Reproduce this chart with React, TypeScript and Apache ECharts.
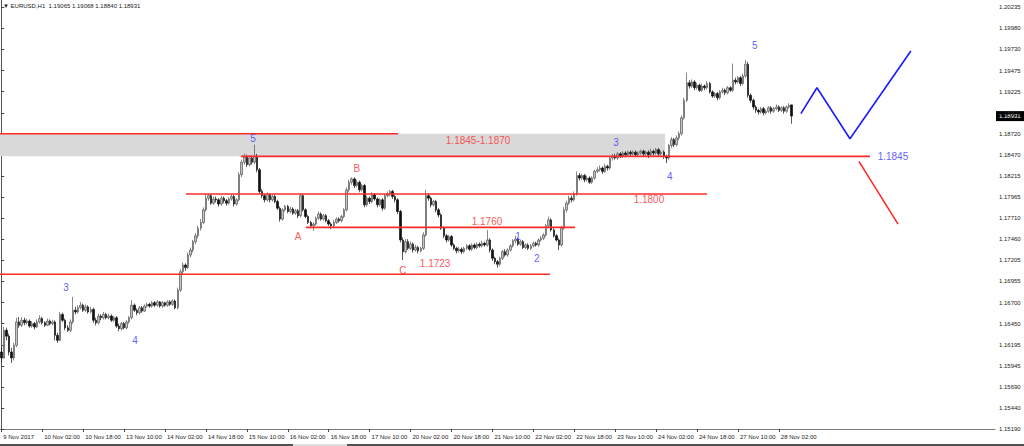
import React, { useEffect, useRef } from "react";
import * as echarts from "echarts";

// x-axis tick labels, one every 16 hourly bars (bar 0 = 9 Nov 10:00)
const xTickLabels = [
  "9 Nov 2017", "10 Nov 02:00", "10 Nov 18:00", "13 Nov 10:00", "14 Nov 02:00",
  "14 Nov 18:00", "15 Nov 10:00", "16 Nov 02:00", "16 Nov 18:00", "17 Nov 10:00",
  "20 Nov 02:00", "20 Nov 18:00", "21 Nov 10:00", "22 Nov 02:00", "22 Nov 18:00",
  "23 Nov 10:00", "24 Nov 02:00", "24 Nov 18:00", "27 Nov 10:00", "28 Nov 02:00",
];

// price-scale tick values (right axis)
const yTickValues = [
  1.1519, 1.1544, 1.1569, 1.15945, 1.16195, 1.1645, 1.167, 1.16955, 1.17205, 1.1746,
  1.1771, 1.17965, 1.18215, 1.1847, 1.1872, 1.1897, 1.19225, 1.19475, 1.1973, 1.1998, 1.20235,
];

const symbolTitle = "EURUSD,H1";
const lastBar = { open: 1.19065, high: 1.19068, low: 1.1884, close: 1.18931 };

// EURUSD H1 candles: [open, close, low, high]
const candles: number[][] = [
  [1.1611,1.1604,1.1599,1.1616],[1.1604,1.1637,1.1603,1.1641],[1.1637,1.1630,1.1625,1.1640],[1.1630,1.1611,1.1607,1.1633],
  [1.1611,1.1604,1.1598,1.1616],[1.1604,1.1619,1.1601,1.1622],[1.1619,1.1647,1.1617,1.1652],[1.1647,1.1643,1.1640,1.1653],
  [1.1643,1.1649,1.1641,1.1653],[1.1649,1.1646,1.1643,1.1652],[1.1646,1.1648,1.1644,1.1651],[1.1648,1.1642,1.1640,1.1650],
  [1.1642,1.1645,1.1640,1.1648],[1.1645,1.1641,1.1638,1.1647],[1.1641,1.1647,1.1640,1.1650],[1.1647,1.1651,1.1645,1.1655],
  [1.1651,1.1646,1.1644,1.1653],[1.1646,1.1643,1.1641,1.1648],[1.1643,1.1648,1.1642,1.1651],[1.1648,1.1645,1.1643,1.1650],
  [1.1645,1.1647,1.1643,1.1649],[1.1647,1.1631,1.1625,1.1649],[1.1631,1.1625,1.1622,1.1634],[1.1625,1.1656,1.1624,1.1659],
  [1.1656,1.1649,1.1647,1.1658],[1.1649,1.1640,1.1637,1.1651],[1.1640,1.1637,1.1635,1.1643],[1.1637,1.1647,1.1635,1.1650],
  [1.1647,1.1661,1.1645,1.1677],[1.1661,1.1659,1.1656,1.1665],[1.1659,1.1664,1.1657,1.1667],[1.1664,1.1667,1.1662,1.1671],
  [1.1667,1.1661,1.1659,1.1669],[1.1661,1.1665,1.1659,1.1668],[1.1665,1.1659,1.1657,1.1667],[1.1659,1.1662,1.1657,1.1665],
  [1.1662,1.1649,1.1646,1.1664],[1.1649,1.1646,1.1643,1.1652],[1.1646,1.1654,1.1644,1.1657],[1.1654,1.1652,1.1649,1.1656],
  [1.1652,1.1656,1.1650,1.1659],[1.1656,1.1652,1.1650,1.1658],[1.1652,1.1654,1.1650,1.1657],[1.1654,1.1649,1.1647,1.1656],
  [1.1649,1.1652,1.1647,1.1654],[1.1652,1.1642,1.1640,1.1654],[1.1642,1.1639,1.1636,1.1645],[1.1639,1.1645,1.1637,1.1647],
  [1.1645,1.1640,1.1638,1.1647],[1.1640,1.1647,1.1638,1.1649],[1.1647,1.1652,1.1645,1.1654],[1.1652,1.1667,1.1650,1.1673],
  [1.1667,1.1661,1.1659,1.1669],[1.1661,1.1658,1.1655,1.1663],[1.1658,1.1664,1.1656,1.1666],[1.1664,1.1660,1.1658,1.1666],
  [1.1660,1.1666,1.1659,1.1668],[1.1666,1.1668,1.1664,1.1670],[1.1668,1.1666,1.1664,1.1670],[1.1666,1.1670,1.1664,1.1672],
  [1.1670,1.1667,1.1665,1.1672],[1.1667,1.1671,1.1665,1.1673],[1.1671,1.1666,1.1664,1.1672],[1.1666,1.1670,1.1664,1.1672],
  [1.1670,1.1667,1.1665,1.1671],[1.1667,1.1671,1.1665,1.1673],[1.1671,1.1668,1.1666,1.1673],[1.1668,1.1672,1.1666,1.1674],
  [1.1672,1.1664,1.1662,1.1674],[1.1664,1.1685,1.1662,1.1688],[1.1685,1.1707,1.1683,1.1710],[1.1707,1.1715,1.1703,1.1718],
  [1.1715,1.1712,1.1708,1.1717],[1.1712,1.1727,1.1710,1.1730],[1.1727,1.1733,1.1724,1.1736],[1.1733,1.1743,1.1730,1.1745],
  [1.1743,1.1750,1.1740,1.1753],[1.1750,1.1759,1.1747,1.1762],[1.1759,1.1766,1.1756,1.1770],[1.1766,1.1781,1.1764,1.1784],
  [1.1781,1.1795,1.1779,1.1800],[1.1795,1.1798,1.1792,1.1800],[1.1798,1.1789,1.1787,1.1800],[1.1789,1.1794,1.1787,1.1797],
  [1.1794,1.1793,1.1790,1.1797],[1.1793,1.1788,1.1785,1.1795],[1.1788,1.1795,1.1786,1.1798],[1.1795,1.1792,1.1789,1.1797],
  [1.1792,1.1789,1.1786,1.1794],[1.1789,1.1794,1.1787,1.1796],[1.1794,1.1797,1.1792,1.1800],[1.1797,1.1788,1.1785,1.1799],
  [1.1788,1.1793,1.1786,1.1795],[1.1793,1.1823,1.1791,1.1826],[1.1823,1.1838,1.1820,1.1841],[1.1838,1.1844,1.1835,1.1848],
  [1.1844,1.1835,1.1832,1.1847],[1.1835,1.1843,1.1833,1.1846],[1.1843,1.1838,1.1835,1.1846],[1.1838,1.1845,1.1836,1.1859],
  [1.1845,1.1829,1.1826,1.1848],[1.1829,1.1803,1.1800,1.1831],[1.1803,1.1798,1.1795,1.1806],[1.1798,1.1793,1.1790,1.1800],
  [1.1793,1.1799,1.1791,1.1802],[1.1799,1.1793,1.1790,1.1801],[1.1793,1.1797,1.1791,1.1799],[1.1797,1.1791,1.1789,1.1799],
  [1.1791,1.1783,1.1781,1.1793],[1.1783,1.1770,1.1767,1.1785],[1.1770,1.1781,1.1768,1.1783],[1.1781,1.1785,1.1779,1.1787],
  [1.1785,1.1779,1.1777,1.1787],[1.1779,1.1782,1.1777,1.1785],[1.1782,1.1777,1.1775,1.1784],[1.1777,1.1780,1.1775,1.1782],
  [1.1780,1.1774,1.1771,1.1782],[1.1774,1.1798,1.1772,1.1800],[1.1798,1.1781,1.1779,1.1800],[1.1781,1.1773,1.1771,1.1783],
  [1.1773,1.1766,1.1764,1.1775],[1.1766,1.1762,1.1759,1.1768],[1.1762,1.1764,1.1756,1.1766],[1.1764,1.1771,1.1762,1.1773],
  [1.1771,1.1776,1.1769,1.1779],[1.1776,1.1770,1.1768,1.1778],[1.1770,1.1774,1.1768,1.1776],[1.1774,1.1768,1.1766,1.1776],
  [1.1768,1.1764,1.1762,1.1770],[1.1764,1.1762,1.1758,1.1766],[1.1762,1.1766,1.1760,1.1769],[1.1766,1.1770,1.1764,1.1772],
  [1.1770,1.1768,1.1766,1.1772],[1.1768,1.1773,1.1766,1.1775],[1.1773,1.1781,1.1771,1.1783],[1.1781,1.1805,1.1779,1.1808],
  [1.1805,1.1814,1.1802,1.1817],[1.1814,1.1818,1.1811,1.1820],[1.1818,1.1810,1.1807,1.1820],[1.1810,1.1814,1.1808,1.1817],
  [1.1814,1.1805,1.1802,1.1816],[1.1805,1.1810,1.1803,1.1812],[1.1810,1.1787,1.1784,1.1812],[1.1787,1.1795,1.1785,1.1798],
  [1.1795,1.1791,1.1788,1.1797],[1.1791,1.1799,1.1789,1.1802],[1.1799,1.1794,1.1792,1.1801],[1.1794,1.1787,1.1784,1.1796],
  [1.1787,1.1793,1.1785,1.1795],[1.1793,1.1783,1.1780,1.1795],[1.1783,1.1798,1.1781,1.1800],[1.1798,1.1800,1.1796,1.1803],
  [1.1800,1.1803,1.1797,1.1805],[1.1803,1.1797,1.1794,1.1805],[1.1797,1.1793,1.1790,1.1799],[1.1793,1.1779,1.1776,1.1795],
  [1.1779,1.1745,1.1742,1.1781],[1.1745,1.1731,1.1721,1.1748],[1.1731,1.1743,1.1729,1.1746],[1.1743,1.1735,1.1733,1.1746],
  [1.1735,1.1740,1.1733,1.1743],[1.1740,1.1733,1.1730,1.1742],[1.1733,1.1736,1.1731,1.1739],[1.1736,1.1732,1.1729,1.1738],
  [1.1732,1.1735,1.1730,1.1737],[1.1735,1.1751,1.1733,1.1754],[1.1751,1.1798,1.1749,1.1805],[1.1798,1.1795,1.1792,1.1801],
  [1.1795,1.1787,1.1784,1.1797],[1.1787,1.1791,1.1785,1.1793],[1.1791,1.1781,1.1778,1.1793],[1.1781,1.1775,1.1772,1.1783],
  [1.1775,1.1759,1.1757,1.1777],[1.1759,1.1750,1.1747,1.1761],[1.1750,1.1745,1.1742,1.1752],[1.1745,1.1749,1.1743,1.1751],
  [1.1749,1.1739,1.1737,1.1751],[1.1739,1.1735,1.1733,1.1741],[1.1735,1.1732,1.1729,1.1737],[1.1732,1.1734,1.1730,1.1737],
  [1.1734,1.1731,1.1728,1.1736],[1.1731,1.1735,1.1729,1.1737],[1.1735,1.1738,1.1733,1.1740],[1.1738,1.1734,1.1732,1.1740],
  [1.1734,1.1739,1.1732,1.1741],[1.1739,1.1736,1.1734,1.1741],[1.1736,1.1740,1.1734,1.1742],[1.1740,1.1738,1.1736,1.1742],
  [1.1738,1.1741,1.1736,1.1744],[1.1741,1.1739,1.1737,1.1743],[1.1739,1.1745,1.1737,1.1757],[1.1745,1.1733,1.1730,1.1747],
  [1.1733,1.1723,1.1720,1.1735],[1.1723,1.1719,1.1716,1.1725],[1.1719,1.1716,1.1712,1.1721],[1.1716,1.1723,1.1714,1.1725],
  [1.1723,1.1731,1.1721,1.1733],[1.1731,1.1727,1.1725,1.1734],[1.1727,1.1733,1.1725,1.1735],[1.1733,1.1738,1.1731,1.1740],
  [1.1738,1.1744,1.1736,1.1746],[1.1744,1.1746,1.1741,1.1750],[1.1746,1.1740,1.1738,1.1748],[1.1740,1.1743,1.1738,1.1745],
  [1.1743,1.1736,1.1734,1.1745],[1.1736,1.1739,1.1734,1.1741],[1.1739,1.1735,1.1733,1.1741],[1.1735,1.1738,1.1733,1.1740],
  [1.1738,1.1741,1.1736,1.1743],[1.1741,1.1739,1.1737,1.1743],[1.1739,1.1745,1.1737,1.1747],[1.1745,1.1747,1.1743,1.1750],
  [1.1747,1.1751,1.1745,1.1753],[1.1751,1.1762,1.1749,1.1764],[1.1762,1.1769,1.1760,1.1773],[1.1769,1.1757,1.1755,1.1771],
  [1.1757,1.1750,1.1748,1.1759],[1.1750,1.1745,1.1743,1.1752],[1.1745,1.1739,1.1733,1.1747],[1.1739,1.1759,1.1737,1.1762],
  [1.1759,1.1781,1.1757,1.1784],[1.1781,1.1789,1.1778,1.1792],[1.1789,1.1795,1.1787,1.1798],[1.1795,1.1793,1.1790,1.1798],
  [1.1793,1.1800,1.1791,1.1803],[1.1800,1.1822,1.1798,1.1827],[1.1822,1.1819,1.1816,1.1825],[1.1819,1.1822,1.1817,1.1824],
  [1.1822,1.1817,1.1814,1.1824],[1.1817,1.1819,1.1815,1.1822],[1.1819,1.1814,1.1812,1.1821],[1.1814,1.1819,1.1812,1.1821],
  [1.1819,1.1827,1.1817,1.1829],[1.1827,1.1829,1.1825,1.1832],[1.1829,1.1831,1.1827,1.1834],[1.1831,1.1827,1.1824,1.1833],
  [1.1827,1.1833,1.1825,1.1836],[1.1833,1.1831,1.1828,1.1835],[1.1831,1.1843,1.1829,1.1845],[1.1843,1.1845,1.1840,1.1848],
  [1.1845,1.1843,1.1841,1.1848],[1.1843,1.1848,1.1841,1.1850],[1.1848,1.1845,1.1843,1.1850],[1.1845,1.1849,1.1843,1.1851],
  [1.1849,1.1847,1.1844,1.1851],[1.1847,1.1850,1.1845,1.1852],[1.1850,1.1848,1.1845,1.1852],[1.1848,1.1850,1.1846,1.1852],
  [1.1850,1.1847,1.1844,1.1852],[1.1847,1.1849,1.1845,1.1851],[1.1849,1.1851,1.1847,1.1853],[1.1851,1.1848,1.1845,1.1853],
  [1.1848,1.1850,1.1846,1.1852],[1.1850,1.1847,1.1843,1.1852],[1.1847,1.1851,1.1845,1.1854],[1.1851,1.1849,1.1846,1.1853],
  [1.1849,1.1853,1.1847,1.1855],[1.1853,1.1848,1.1845,1.1855],[1.1848,1.1850,1.1846,1.1852],[1.1850,1.1845,1.1842,1.1852],
  [1.1845,1.1843,1.1837,1.1847],[1.1843,1.1858,1.1841,1.1860],[1.1858,1.1865,1.1855,1.1868],[1.1865,1.1859,1.1856,1.1867],
  [1.1859,1.1867,1.1857,1.1870],[1.1867,1.1872,1.1864,1.1875],[1.1872,1.1891,1.1870,1.1894],[1.1891,1.1912,1.1889,1.1915],
  [1.1912,1.1933,1.1910,1.1945],[1.1933,1.1929,1.1926,1.1936],[1.1929,1.1934,1.1927,1.1937],[1.1934,1.1927,1.1924,1.1936],
  [1.1927,1.1930,1.1925,1.1933],[1.1930,1.1924,1.1922,1.1932],[1.1924,1.1929,1.1922,1.1932],[1.1929,1.1927,1.1924,1.1931],
  [1.1927,1.1932,1.1925,1.1935],[1.1932,1.1922,1.1920,1.1934],[1.1922,1.1917,1.1915,1.1924],[1.1917,1.1920,1.1915,1.1922],
  [1.1920,1.1915,1.1912,1.1922],[1.1915,1.1922,1.1913,1.1924],[1.1922,1.1924,1.1920,1.1927],[1.1924,1.1921,1.1918,1.1926],
  [1.1921,1.1927,1.1919,1.1929],[1.1927,1.1924,1.1922,1.1929],[1.1924,1.1936,1.1922,1.1956],[1.1936,1.1934,1.1931,1.1939],
  [1.1934,1.1939,1.1932,1.1941],[1.1939,1.1932,1.1929,1.1941],[1.1932,1.1941,1.1930,1.1944],[1.1941,1.1955,1.1939,1.1960],
  [1.1955,1.1918,1.1915,1.1958],[1.1918,1.1912,1.1909,1.1920],[1.1912,1.1904,1.1901,1.1914],[1.1904,1.1900,1.1897,1.1906],
  [1.1900,1.1898,1.1895,1.1902],[1.1898,1.1902,1.1896,1.1904],[1.1902,1.1897,1.1894,1.1904],[1.1897,1.1899,1.1895,1.1901],
  [1.1899,1.1903,1.1897,1.1905],[1.1903,1.1899,1.1896,1.1905],[1.1899,1.1902,1.1897,1.1904],[1.1902,1.1904,1.1900,1.1907],
  [1.1904,1.1900,1.1898,1.1906],[1.1900,1.1903,1.1898,1.1905],[1.1903,1.1899,1.1896,1.1905],[1.1899,1.1904,1.1897,1.1906],
  [1.1904,1.1906,1.1902,1.19085],[1.19065,1.18931,1.1884,1.19068],
];

// support / resistance levels: price, first bar, last bar
const levelPrices = [1.1872, 1.1845, 1.18, 1.176, 1.1704];
const levelFrom = [-0.5, 93.7, 72.2, 119.1, -0.5];
const levelTo = [155.1, 339.6, 275.9, 224.3, 214.5];

// grey zone 1.1845-1.1872 up to bar 259.5
const zone = { from: -0.5, to: 259.5, low: 1.1845, high: 1.1872 };

// projected wave paths (bar index, price)
const blueProjection = [[312.6, 1.1896], [318.9, 1.1927], [331.8, 1.1866], [355.6, 1.1971]];
const redProjection = [[335.3, 1.1839], [350.6, 1.1764]];

// annotations: bar index, price, text, colour kind
const annotations: [number, number, string, string][] = [
  [186.4, 1.18645, "1.1845-1.1870", "red"],
  [348.6, 1.1845, "1.1845", "blue"],
  [253.2, 1.1793, "1.1800", "red"],
  [189.9, 1.1767, "1.1760", "red"],
  [169.6, 1.1717, "1.1723", "red"],
  [116.0, 1.1749, "A", "red"],
  [139.0, 1.1831, "B", "red"],
  [157.0, 1.1708, "C", "red"],
  [98.4, 1.1866, "5", "blue"],
  [25.3, 1.1688, "3", "blue"],
  [52.3, 1.1625, "4", "blue"],
  [202.0, 1.1749, "1", "blue"],
  [209.4, 1.1723, "2", "blue"],
  [240.3, 1.1861, "3", "blue"],
  [261.4, 1.1821, "4", "blue"],
  [294.6, 1.1977, "5", "blue"],
];

const SLOTS = 389;
const RED = "#ff2a2a";
const BLUE = "#3434ff";
const AXIS_FONT = "Liberation Sans";

export default function App() {
  const ref = useRef<HTMLDivElement>(null);

  useEffect(() => {
    document.body.style.margin = "0";
    if (!ref.current) return;
    const chart = echarts.init(ref.current, null, { renderer: "svg" });
    const cats = Array.from({ length: SLOTS }, (_, i) => String(i));
    const showTick = (i: number) => i % 16 === 0 && i / 16 < xTickLabels.length;

    const levelSeries = levelPrices.map((p, k) => ({
      type: "line",
      xAxisIndex: 1,
      symbol: "none",
      silent: true,
      z: 4,
      lineStyle: { color: RED, width: 1.6 },
      data: [[levelFrom[k], p], [levelTo[k], p]],
    }));

    const baseGraphic: any[] = [
      {
        id: "title",
        type: "text",
        left: 3,
        top: 3,
        style: {
          text: "\u25BC " + symbolTitle + "  " + [lastBar.open, lastBar.high, lastBar.low, lastBar.close].map((v) => v.toFixed(5)).join(" "),
          fontSize: 6,
          fontFamily: AXIS_FONT,
          fill: "#222",
        },
      },
      { id: "bottomBar", type: "rect", left: 0, top: 444, shape: { width: 1024, height: 2 }, style: { fill: "#505050" } },
      { id: "thumb", type: "rect", left: 293, top: 444, shape: { width: 54, height: 2 }, style: { fill: "#e0e0e0" } },
    ];

    const option: any = {
      animation: false,
      backgroundColor: "#ffffff",
      grid: { left: 0, right: 29, top: 0, bottom: 17 },
      xAxis: [
        {
          type: "category",
          data: cats,
          boundaryGap: true,
          axisLine: { show: true, lineStyle: { color: "#7a7a7a", width: 1 } },
          axisTick: {
            show: true,
            alignWithLabel: true,
            interval: (i: number) => showTick(i),
            length: 3,
            lineStyle: { color: "#444" },
          },
          axisLabel: {
            interval: (i: number) => showTick(i),
            formatter: (v: string) => xTickLabels[Number(v) / 16] ?? "",
            align: "left",
            padding: [0, 0, 0, 2],
            fontSize: 6,
            fontFamily: AXIS_FONT,
            color: "#222",
            margin: 5,
          },
          splitLine: { show: false },
        },
        { type: "value", min: -0.5, max: SLOTS - 0.5, show: false },
      ],
      yAxis: {
        type: "value",
        position: "right",
        min: 1.1519,
        max: 1.20319,
        axisLine: { show: true, lineStyle: { color: "#555", width: 1 } },
        axisTick: { show: true, customValues: yTickValues, length: 3, lineStyle: { color: "#444" } },
        axisLabel: {
          customValues: yTickValues,
          formatter: (v: number) => v.toFixed(5),
          fontSize: 6,
          fontFamily: AXIS_FONT,
          color: "#222",
          margin: 4,
        },
        splitLine: { show: false },
      },
      graphic: baseGraphic,
      series: [
        {
          type: "line",
          xAxisIndex: 1,
          symbol: "none",
          silent: true,
          z: 1,
          lineStyle: { opacity: 0 },
          data: [[zone.from, zone.low]],
          markArea: {
            silent: true,
            itemStyle: { color: "#d9d9d9" },
            data: [[{ xAxis: zone.from, yAxis: zone.low }, { xAxis: zone.to, yAxis: zone.high }]],
          },
        },
        {
          type: "candlestick",
          xAxisIndex: 0,
          z: 3,
          barWidth: 2,
          data: candles,
          itemStyle: {
            color: "#c4c4c4",
            color0: "#111111",
            borderColor: "#555555",
            borderColor0: "#111111",
            borderWidth: 0.7,
          },
        },
        ...levelSeries,
        {
          type: "line",
          xAxisIndex: 1,
          symbol: "none",
          silent: true,
          z: 4,
          lineStyle: { color: "#1a1aff", width: 1.6 },
          data: blueProjection,
        },
        {
          type: "line",
          xAxisIndex: 1,
          symbol: "none",
          silent: true,
          z: 4,
          lineStyle: { color: RED, width: 1.6 },
          data: redProjection,
        },
        {
          type: "scatter",
          xAxisIndex: 1,
          symbolSize: 0,
          silent: true,
          z: 5,
          data: annotations.map(([x, y, t, c]) => ({
            value: [x, y],
            label: {
              show: true,
              position: "inside",
              formatter: t,
              color: c === "red" ? RED : BLUE,
              fontSize: 10,
              fontFamily: "Liberation Sans",
            },
          })),
        },
      ],
    };
    chart.setOption(option);

    // current-price box on the right scale, positioned through the price axis
    const py = chart.convertToPixel({ yAxisIndex: 0 }, lastBar.close) as number;
    const px = chart.convertToPixel({ xAxisIndex: 1 }, SLOTS - 0.5) as number;
    chart.setOption({
      graphic: [
        ...baseGraphic,
        {
          id: "priceBox",
          type: "group",
          x: px + 1,
          y: py,
          z: 100,
          children: [
            { type: "rect", shape: { x: 0, y: -5, width: 28, height: 10 }, style: { fill: "#000" } },
            {
              type: "text",
              x: 3,
              y: 0,
              style: {
                text: lastBar.close.toFixed(5),
                fill: "#fff",
                fontSize: 6,
                fontFamily: AXIS_FONT,
                verticalAlign: "middle",
              },
            },
          ],
        },
      ],
    });
    return () => chart.dispose();
  }, []);

  return <div ref={ref} style={{ width: 1024, height: 446 }} />;
}
